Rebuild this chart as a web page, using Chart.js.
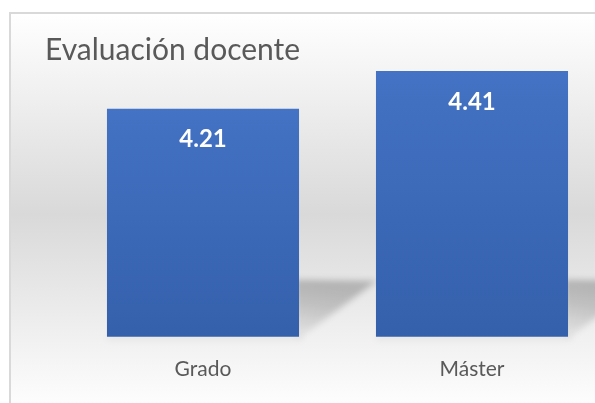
<!DOCTYPE html>
<html>
<head>
<meta charset="utf-8">
<script src="https://cdn.jsdelivr.net/npm/chart.js@4/dist/chart.umd.min.js"></script>
<style>
    html, body { margin: 0; padding: 0; width: 595px; height: 403px; overflow: hidden; background: #ffffff; }
    #frame {
        position: absolute; left: 9px; top: 12px; width: 640px; height: 400px;
        border-left: 2px solid #d9d9d9; border-top: 2px solid #d9d9d9;
        background: linear-gradient(to bottom, #ffffff 0%, #d9d9d9 50%, #ffffff 100%);
    }
    #chart { position: absolute; left: 0; top: 0; }
</style>
</head>
<body>
<div id="frame"></div>
<canvas id="chart" width="640" height="403"></canvas>
<script>
// datos del gráfico
const categories = ['Grado', 'Máster'];
const scores = [4.21, 4.41];
const yMin = 3;
const yMax = 4.5;

const textGrey = '#595959';

// sombra en perspectiva detrás de cada barra
const barShadow = {
    id: 'barShadow',
    afterDatasetsDraw(chart) {
        const ctx = chart.ctx;
        const bottom = chart.chartArea.bottom;
        chart.getDatasetMeta(0).data.forEach((bar) => {
            const p = bar.getProps(['x', 'width'], true);
            const right = p.x + p.width / 2;
            const left = p.x - p.width / 2;
            ctx.save();
            ctx.globalCompositeOperation = 'destination-over';
            ctx.filter = 'blur(3px)';
            const g = ctx.createLinearGradient(right, bottom - 56, right - 10, bottom);
            g.addColorStop(0, 'rgba(0,0,0,0.22)');
            g.addColorStop(0.35, 'rgba(0,0,0,0.18)');
            g.addColorStop(1, 'rgba(0,0,0,0.04)');
            ctx.fillStyle = g;
            ctx.beginPath();
            ctx.moveTo(right - 4, bottom - 57);
            ctx.lineTo(right + 78, bottom - 56);
            ctx.lineTo(right + 2, bottom);
            ctx.lineTo(right - 4, bottom);
            ctx.closePath();
            ctx.fill();
            ctx.fillStyle = 'rgba(0,0,0,0.06)';
            ctx.fillRect(left, bottom - 1, p.width + 4, 4);
            ctx.restore();
        });
    }
};

// etiquetas de valor dentro de las barras
const valueLabels = {
    id: 'valueLabels',
    afterDatasetsDraw(chart) {
        const ctx = chart.ctx;
        ctx.save();
        ctx.fillStyle = '#ffffff';
        ctx.font = 'bold 24px Lato';
        ctx.textAlign = 'center';
        ctx.textBaseline = 'middle';
        chart.getDatasetMeta(0).data.forEach((bar, i) => {
            ctx.fillText(scores[i].toFixed(2), bar.x, bar.y + 31);
        });
        ctx.restore();
    }
};

new Chart(document.getElementById('chart'), {
    type: 'bar',
    data: {
        labels: categories,
        datasets: [{
            data: scores,
            backgroundColor: (c) => {
                const { ctx, chartArea, scales } = c.chart;
                if (!chartArea || c.raw === undefined) return '#4472c4';
                const top = scales.y.getPixelForValue(c.raw);
                const g = ctx.createLinearGradient(0, top, 0, chartArea.bottom);
                g.addColorStop(0, '#4472c4');
                g.addColorStop(1, '#3460ab');
                return g;
            },
            borderWidth: 0,
            barPercentage: 0.714,
            categoryPercentage: 1
        }]
    },
    options: {
        responsive: false,
        animation: false,
        layout: { padding: { left: 45, right: 33.5, top: 0, bottom: 1 } },
        plugins: {
            legend: { display: false },
            tooltip: { enabled: false },
            title: {
                display: true,
                text: 'Evaluación docente',
                align: 'start',
                color: textGrey,
                font: { family: 'Lato', size: 30, weight: 'normal' },
                padding: { top: 32, bottom: -14 }
            }
        },
        scales: {
            x: {
                grid: { display: false, drawTicks: false },
                border: { display: false },
                ticks: { color: textGrey, padding: 20, font: { family: 'Lato', size: 21 } }
            },
            y: {
                min: yMin,
                max: yMax,
                grid: { display: false, drawTicks: false },
                border: { display: false },
                ticks: { display: false },
                afterFit: (scale) => { scale.width = 23.5; }
            }
        }
    },
    plugins: [barShadow, valueLabels]
});
</script>
</body>
</html>
